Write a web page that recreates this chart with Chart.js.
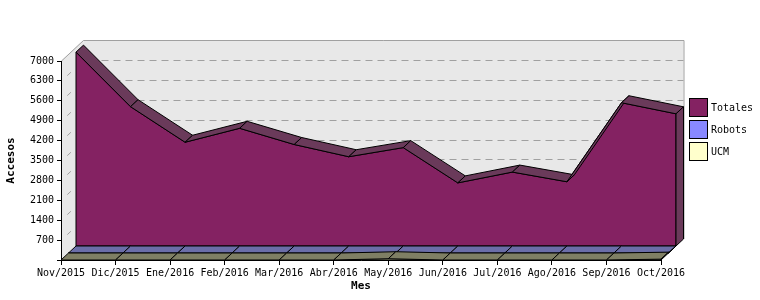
<!DOCTYPE html>
<html>
<head>
<meta charset="utf-8">
<script src="https://cdn.jsdelivr.net/npm/chart.js@4.4.1/dist/chart.umd.min.js"></script>
<style>
  html, body { margin: 0; padding: 0; background: #fff; }
  canvas { display: block; }
</style>
</head>
<body>
<canvas id="accesosChart" width="760" height="300"></canvas>
<script>
// Meses (eje X)
const meses = ["Nov/2015", "Dic/2015", "Ene/2016", "Feb/2016", "Mar/2016", "Abr/2016",
  "May/2016", "Jun/2016", "Jul/2016", "Ago/2016", "Sep/2016", "Oct/2016"];

// Accesos por serie
const totales = [6820, 4900, 3650, 4140, 3570, 3140, 3460, 2220, 2600, 2260, 5040, 4650];
const robots = [0, 0, 0, 0, 0, 0, 0, 0, 0, 0, 0, 0];
const ucm = [0, 0, 0, 0, 0, 0, 45, 0, 0, 0, 0, 30];

// Eje Y
const yMin = 0;
const yMax = 7000;
const yStep = 700;

// 3D look: depth of one series slab
const DEPTH_X = 7.5;
const DEPTH_Y = -7;
const FONT = "'DejaVu Sans Mono', monospace";

function quad(ctx, pts, fill) {
  ctx.beginPath();
  ctx.moveTo(pts[0][0], pts[0][1]);
  for (let i = 1; i < pts.length; i++) ctx.lineTo(pts[i][0], pts[i][1]);
  ctx.closePath();
  ctx.fillStyle = fill;
  ctx.fill();
  ctx.stroke();
}

const area3d = {
  id: "area3d",
  // walls + back grid
  beforeDraw(chart) {
    const { ctx, chartArea: a, scales } = chart;
    const n = chart.data.datasets.length;
    const wx = DEPTH_X * n, wy = DEPTH_Y * n;
    ctx.save();
    ctx.fillStyle = "#e8e8e8";
    ctx.fillRect(a.left + wx, a.top + wy, a.right - a.left, a.bottom - a.top);
    ctx.beginPath();
    ctx.moveTo(a.left, a.top);
    ctx.lineTo(a.left + wx, a.top + wy);
    ctx.lineTo(a.left + wx, a.bottom + wy);
    ctx.lineTo(a.left, a.bottom);
    ctx.closePath();
    ctx.fill();

    // grid lines (dashed on back wall, a short mark on the side wall)
    ctx.strokeStyle = "#a0a0a0";
    ctx.lineWidth = 1;
    for (let v = yMin + yStep; v < yMax; v += yStep) {
      const y = Math.round(scales.y.getPixelForValue(v)) + 0.5;
      ctx.setLineDash([7, 5]);
      ctx.beginPath();
      ctx.moveTo(a.left + wx + 6, y + wy);
      ctx.lineTo(a.right + wx, y + wy);
      ctx.stroke();
      ctx.setLineDash([]);
      ctx.beginPath();
      ctx.moveTo(a.left + wx * 0.28, y + wy * 0.28);
      ctx.lineTo(a.left + wx * 0.44, y + wy * 0.44);
      ctx.stroke();
    }

    // wall edges
    ctx.beginPath();
    ctx.moveTo(a.left + 0.5, a.top);
    ctx.lineTo(a.left + wx, a.top + wy + 0.5);
    ctx.lineTo(a.right + wx + 0.5, a.top + wy + 0.5);
    ctx.lineTo(a.right + wx + 0.5, a.bottom + wy);
    ctx.stroke();
    ctx.restore();
  },
  // series slabs, back to front
  beforeDatasetsDraw(chart) {
    const { ctx, scales } = chart;
    const sets = chart.data.datasets;
    ctx.save();
    ctx.strokeStyle = "#000";
    ctx.lineWidth = 1;
    ctx.lineJoin = "round";
    for (let d = 0; d < sets.length; d++) {
      const ds = sets[d];
      const layer = sets.length - 1 - d;
      const ox = layer * DEPTH_X, oy = layer * DEPTH_Y;
      const base = scales.y.getPixelForValue(0) + oy;
      const pts = ds.data.map((v, i) => [
        scales.x.getPixelForValue(i) + ox,
        scales.y.getPixelForValue(v) + oy,
      ]);
      const last = pts[pts.length - 1];

      // front face
      quad(ctx, [[pts[0][0], base], ...pts, [last[0], base]], ds.backgroundColor);

      // top surface
      for (let i = 0; i < pts.length - 1; i++) {
        const p = pts[i], q = pts[i + 1];
        quad(ctx, [p, q, [q[0] + DEPTH_X, q[1] + DEPTH_Y], [p[0] + DEPTH_X, p[1] + DEPTH_Y]], ds.shadeColor);
      }

      // right side
      quad(ctx, [last, [last[0] + DEPTH_X, last[1] + DEPTH_Y],
        [last[0] + DEPTH_X, base + DEPTH_Y], [last[0], base]], ds.shadeColor);
    }
    ctx.restore();
    return false;
  },
  // legend
  afterDraw(chart) {
    const { ctx } = chart;
    ctx.save();
    ctx.font = "10px " + FONT;
    ctx.textBaseline = "middle";
    ctx.textAlign = "left";
    chart.data.datasets.forEach((ds, i) => {
      const y = 98.5 + i * 22;
      ctx.fillStyle = ds.legendColor;
      ctx.fillRect(689.5, y, 18, 18);
      ctx.strokeStyle = "#000";
      ctx.lineWidth = 1;
      ctx.strokeRect(689.5, y, 18, 18);
      ctx.fillStyle = "#000";
      ctx.fillText(ds.label, 711, y + 9.5);
    });
    ctx.restore();
  },
};

const ctx = document.getElementById("accesosChart").getContext("2d");
new Chart(ctx, {
  type: "line",
  data: {
    labels: meses,
    datasets: [
      { label: "Totales", data: totales, backgroundColor: "#842262", shadeColor: "#6a3a5a", legendColor: "#842262" },
      { label: "Robots", data: robots, backgroundColor: "#8888ff", shadeColor: "#6b6ea8", legendColor: "#8888ff" },
      { label: "UCM", data: ucm, backgroundColor: "#ffffcc", shadeColor: "#7f7f64", legendColor: "#ffffcc" },
    ],
  },
  options: {
    responsive: false,
    animation: false,
    devicePixelRatio: 1,
    layout: { padding: { top: 61, right: 99, left: 0, bottom: 0 } },
    plugins: { legend: { display: false }, tooltip: { enabled: false } },
    scales: {
      x: {
        type: "category",
        offset: false,
        afterFit: (s) => { s.height = 40; },
        grid: { drawOnChartArea: false, drawTicks: true, tickLength: 5, color: "#000" },
        border: { display: true, color: "#000" },
        ticks: { color: "#000", font: { family: FONT, size: 10 }, padding: 2, maxRotation: 0, autoSkip: false },
        title: { display: true, text: "Mes", color: "#000", font: { family: FONT, size: 11, weight: "bold" }, padding: { top: 4, bottom: 7 } },
      },
      y: {
        min: yMin,
        max: yMax,
        afterFit: (s) => { s.width = 61; },
        grid: { drawOnChartArea: false, drawTicks: true, tickLength: 4, color: "#000" },
        border: { display: true, color: "#000" },
        ticks: {
          stepSize: yStep,
          color: "#000",
          padding: 3,
          font: { family: FONT, size: 10 },
          callback: (v) => (v === 0 ? "" : v),
        },
        title: { display: true, text: "Accesos", color: "#000", font: { family: FONT, size: 11, weight: "bold" }, padding: { top: 5, bottom: 4 } },
      },
    },
  },
  plugins: [area3d],
});
</script>
</body>
</html>
